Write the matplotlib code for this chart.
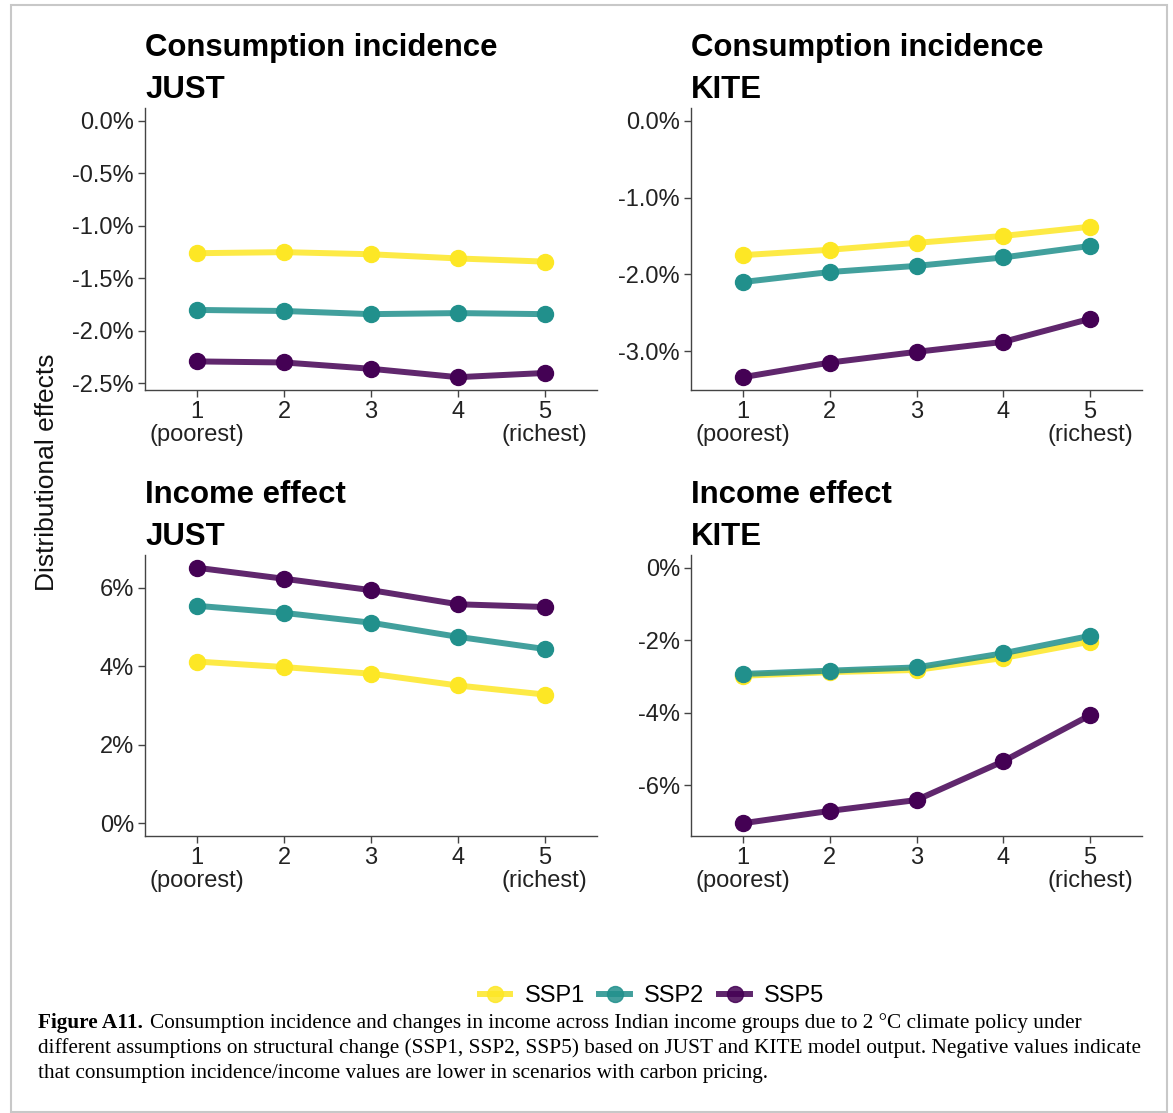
import numpy as np
import matplotlib
matplotlib.use("Agg")
import matplotlib.pyplot as plt
from matplotlib.lines import Line2D
from matplotlib.patches import Rectangle

plt.rcParams['font.family'] = ['Liberation Sans', 'DejaVu Sans']

# income quintiles
groups = [1, 2, 3, 4, 5]
group_labels = ['1\n(poorest)', '2', '3', '4', '5\n(richest)']

scenarios = ['SSP1', 'SSP2', 'SSP5']
colors = ['#FDE725', '#21908C', '#440154']

# values in percent
cons_just_ssp1 = [-1.26, -1.25, -1.27, -1.31, -1.34]
cons_just_ssp2 = [-1.80, -1.81, -1.84, -1.83, -1.84]
cons_just_ssp5 = [-2.29, -2.30, -2.36, -2.44, -2.40]

cons_kite_ssp1 = [-1.75, -1.68, -1.59, -1.50, -1.38]
cons_kite_ssp2 = [-2.10, -1.97, -1.89, -1.78, -1.63]
cons_kite_ssp5 = [-3.34, -3.15, -3.01, -2.88, -2.58]

inc_just_ssp1 = [4.12, 3.98, 3.81, 3.51, 3.28]
inc_just_ssp2 = [5.54, 5.36, 5.11, 4.75, 4.44]
inc_just_ssp5 = [6.51, 6.23, 5.94, 5.58, 5.51]

inc_kite_ssp1 = [-2.98, -2.88, -2.82, -2.49, -2.04]
inc_kite_ssp2 = [-2.93, -2.84, -2.75, -2.36, -1.88]
inc_kite_ssp5 = [-7.05, -6.71, -6.41, -5.34, -4.07]

panels = [
    ('Consumption incidence\nJUST', [cons_just_ssp1, cons_just_ssp2, cons_just_ssp5],
     [0.0, -0.5, -1.0, -1.5, -2.0, -2.5], 1),
    ('Consumption incidence\nKITE', [cons_kite_ssp1, cons_kite_ssp2, cons_kite_ssp5],
     [0.0, -1.0, -2.0, -3.0], 1),
    ('Income effect\nJUST', [inc_just_ssp1, inc_just_ssp2, inc_just_ssp5],
     [0, 2, 4, 6], 0),
    ('Income effect\nKITE', [inc_kite_ssp1, inc_kite_ssp2, inc_kite_ssp5],
     [0, -2, -4, -6], 0),
]

W, H = 1173, 1113
fig = plt.figure(figsize=(W / 100, H / 100), dpi=100)

# axes boxes in pixels: left, top, right, bottom
boxes = [(145, 108, 597, 390), (691, 108, 1142, 390),
         (145, 555, 597, 836), (691, 555, 1142, 836)]

for (title, series, yticks, dec), (l, t, r, b) in zip(panels, boxes):
    ax = fig.add_axes([l / W, 1 - b / H, (r - l) / W, (b - t) / H])
    for vals, c in zip(series, colors):
        ax.plot(groups, vals, color=c, lw=4.3, alpha=0.85, solid_capstyle='butt', zorder=2)
    for vals, c in zip(series, colors):
        ax.plot(groups, vals, ls='none', marker='o', ms=11.5, color=c, zorder=3)
    allv = np.concatenate([np.array(s) for s in series] + [[0.0]])
    lo, hi = allv.min(), allv.max()
    pad = 0.05 * (hi - lo)
    ax.set_ylim(lo - pad, hi + pad)
    ax.set_xlim(0.4, 5.6)
    ax.set_xticks(groups)
    ax.set_xticklabels(group_labels, linespacing=1.05)
    ax.set_yticks(yticks)
    ax.set_yticklabels([f"{v:.{dec}f}%" for v in yticks])
    for s in ['top', 'right']:
        ax.spines[s].set_visible(False)
    for s in ['left', 'bottom']:
        ax.spines[s].set_color('#444444')
        ax.spines[s].set_linewidth(1.0)
    ax.tick_params(axis='both', labelsize=17, colors='#444444', labelcolor='#222222',
                   length=5, width=1.0, pad=3)
    ax.set_title(title, loc='left', fontsize=22.4, fontweight='bold', linespacing=1.52, pad=7)

fig.text(47 / W, 1 - 472 / H, 'Distributional effects', rotation=90,
         ha='center', va='center', fontsize=19, color='#111111')

handles = [Line2D([0], [0], color=c, lw=4.3, alpha=0.85, marker='o', ms=11.5,
                  markerfacecolor=c, markeredgecolor=c) for c in colors]
fig.legend(handles, scenarios, loc='center', bbox_to_anchor=(652 / W, 1 - 996 / H),
           ncol=3, frameon=False, fontsize=17, handlelength=1.3, columnspacing=0.62,
           handletextpad=0.6)

serif = ['Liberation Serif', 'DejaVu Serif']
cap_size = 15.3
t1 = fig.text(38 / W, 1 - 1028 / H, 'Figure A11.', fontsize=cap_size, fontweight='bold',
              family=serif, va='baseline')
ax0 = fig.axes[0]
ax0.annotate('Consumption incidence and changes in income across Indian income groups '
             'due to 2 \u00b0C climate policy under',
             xy=(1, 0), xycoords=t1, xytext=(5, 0), textcoords='offset points',
             fontsize=cap_size, family=serif, ha='left', va='bottom', annotation_clip=False)
fig.text(38 / W, 1 - 1053 / H,
         'different assumptions on structural change (SSP1, SSP2, SSP5) based on JUST '
         'and KITE model output. Negative values indicate',
         fontsize=cap_size, family=serif, va='baseline')
fig.text(38 / W, 1 - 1078 / H,
         'that consumption incidence/income values are lower in scenarios with carbon pricing.',
         fontsize=cap_size, family=serif, va='baseline')

fig.add_artist(Rectangle((11 / W, 1 - 1112 / H), (1167 - 11) / W, (1112 - 5) / H,
                         transform=fig.transFigure, fill=False, edgecolor='#c8c8c8', lw=1.5))

fig.savefig('out.png', dpi=100)
